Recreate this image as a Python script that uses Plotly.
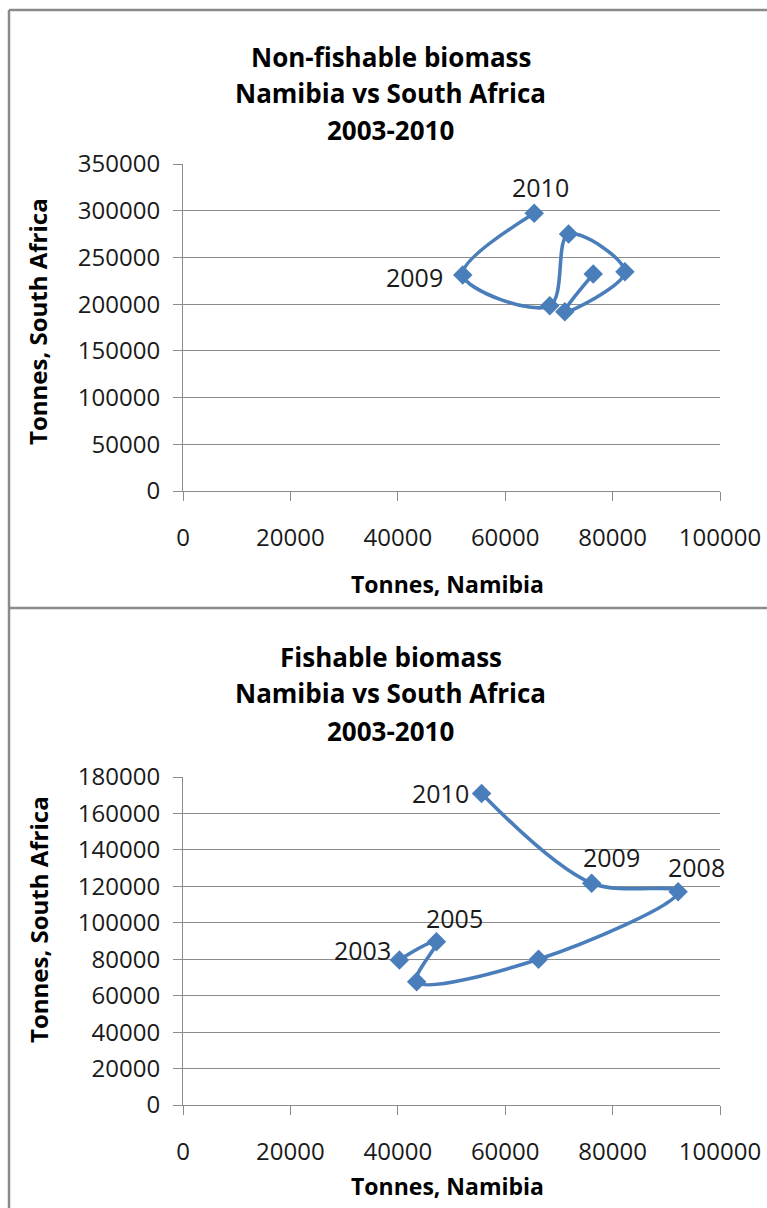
import plotly.graph_objects as go

# ---- data ----
years = [2003, 2005, 2006, 2007, 2008, 2009, 2010]
nonfish_namibia = [76400, 71100, 82300, 71800, 68300, 52100, 65400]
nonfish_sa = [232200, 191800, 234600, 275000, 198200, 231100, 297200]
fish_namibia = [40300, 47200, 43500, 66200, 92200, 76100, 55600]
fish_sa = [79600, 89600, 67700, 80000, 117000, 121700, 171000]

top_labels = {2009: (-48, -2), 2010: (6, 26)}
bot_labels = {2003: (-37, 10), 2005: (18, 24), 2008: (18, 25), 2009: (20, 26), 2010: (-41, 0)}

x_ticks = [0, 20000, 40000, 60000, 80000, 100000]
top_y_ticks = [0, 50000, 100000, 150000, 200000, 250000, 300000, 350000]
bot_y_ticks = [0, 20000, 40000, 60000, 80000, 100000, 120000, 140000, 160000, 180000]

W, H = 767, 1208
BLUE = "#4A7EBB"
GRID = "#8c8c8c"
FONT = "Open Sans"

def px(x):
    return x / W

def py(y):
    return 1 - y / H

fig = go.Figure()

for xs, ys, xa, ya in [(nonfish_namibia, nonfish_sa, "x", "y"),
                       (fish_namibia, fish_sa, "x2", "y2")]:
    fig.add_trace(go.Scatter(
        x=xs, y=ys, mode="lines+markers",
        line=dict(color=BLUE, width=3.6, shape="spline", smoothing=1.0),
        marker=dict(symbol="diamond", size=15, color=BLUE),
        xaxis=xa, yaxis=ya, showlegend=False, cliponaxis=False, hoverinfo="skip",
    ))

axis_common = dict(
    zeroline=False, showline=True, linecolor=GRID, linewidth=1,
    ticks="outside", ticklen=9, tickcolor=GRID, tickwidth=1, automargin=False,
    tickfont=dict(family=FONT, size=24, color="#1a1a1a"),
)

xdom = [px(183), px(720)]
fig.update_layout(
    width=W, height=H, margin=dict(l=0, r=0, t=0, b=0, pad=0, autoexpand=False),
    paper_bgcolor="white", plot_bgcolor="white",
    xaxis=dict(domain=xdom, range=[0, 100000], tickvals=x_ticks,
               ticktext=[str(v) for v in x_ticks], anchor="y", showgrid=False,
               ticklabelstandoff=16, **axis_common),
    yaxis=dict(domain=[py(491), py(164)], range=[0, 350000], tickvals=top_y_ticks,
               ticktext=[str(v) for v in top_y_ticks], anchor="x",
               showgrid=True, gridcolor=GRID, gridwidth=1,
               ticklabelstandoff=8, **axis_common),
    xaxis2=dict(domain=xdom, range=[0, 100000], tickvals=x_ticks,
                ticktext=[str(v) for v in x_ticks], anchor="y2", showgrid=False,
                ticklabelstandoff=16, **axis_common),
    yaxis2=dict(domain=[py(1105), py(777)], range=[0, 180000], tickvals=bot_y_ticks,
                ticktext=[str(v) for v in bot_y_ticks], anchor="x2",
                showgrid=True, gridcolor=GRID, gridwidth=1,
                ticklabelstandoff=8, **axis_common),
)

annotations = []

def title_block(lines, ys):
    for t, y in zip(lines, ys):
        annotations.append(dict(
            xref="paper", yref="paper", x=px(391), y=py(y), text="<b>%s</b>" % t,
            showarrow=False, xanchor="center", yanchor="middle",
            font=dict(family=FONT, size=26, color="#000"),
        ))

title_block(["Non-fishable biomass", "Namibia vs South Africa", "2003-2010"], [57, 93, 130])
title_block(["Fishable biomass", "Namibia vs South Africa", "2003-2010"], [657, 693, 731])

for ytitle_center, xtitle_y in [(322, 584), (920, 1186)]:
    annotations.append(dict(
        xref="paper", yref="paper", x=px(448), y=py(xtitle_y), text="<b>Tonnes, Namibia</b>",
        showarrow=False, xanchor="center", yanchor="middle",
        font=dict(family=FONT, size=23, color="#000"),
    ))
    annotations.append(dict(
        xref="paper", yref="paper", x=px(38), y=py(ytitle_center), text="<b>Tonnes, South Africa</b>",
        showarrow=False, xanchor="center", yanchor="middle", textangle=-90,
        font=dict(family=FONT, size=24, color="#000"),
    ))

for yr, xv, yv in zip(years, nonfish_namibia, nonfish_sa):
    if yr in top_labels:
        dx, dy = top_labels[yr]
        annotations.append(dict(xref="x", yref="y", x=xv, y=yv, text=str(yr),
                                showarrow=False, xshift=dx, yshift=dy,
                                font=dict(family=FONT, size=25, color="#1a1a1a")))
for yr, xv, yv in zip(years, fish_namibia, fish_sa):
    if yr in bot_labels:
        dx, dy = bot_labels[yr]
        annotations.append(dict(xref="x2", yref="y2", x=xv, y=yv, text=str(yr),
                                showarrow=False, xshift=dx, yshift=dy,
                                font=dict(family=FONT, size=25, color="#1a1a1a")))

fig.update_layout(annotations=annotations)

# chart borders
border = dict(color="#8a8a8a", width=2.5)
fig.add_shape(type="line", xref="paper", yref="paper", x0=px(9), x1=px(9), y0=0, y1=py(10), line=border)
fig.add_shape(type="line", xref="paper", yref="paper", x0=px(9), x1=1, y0=py(10), y1=py(10), line=border)
fig.add_shape(type="line", xref="paper", yref="paper", x0=px(9), x1=1, y0=py(608), y1=py(608), line=border)

fig.write_html(
    "out.html",
    config={"displayModeBar": False, "staticPlot": True},
    post_script="document.body.style.margin='0';document.body.style.padding='0';",
)
